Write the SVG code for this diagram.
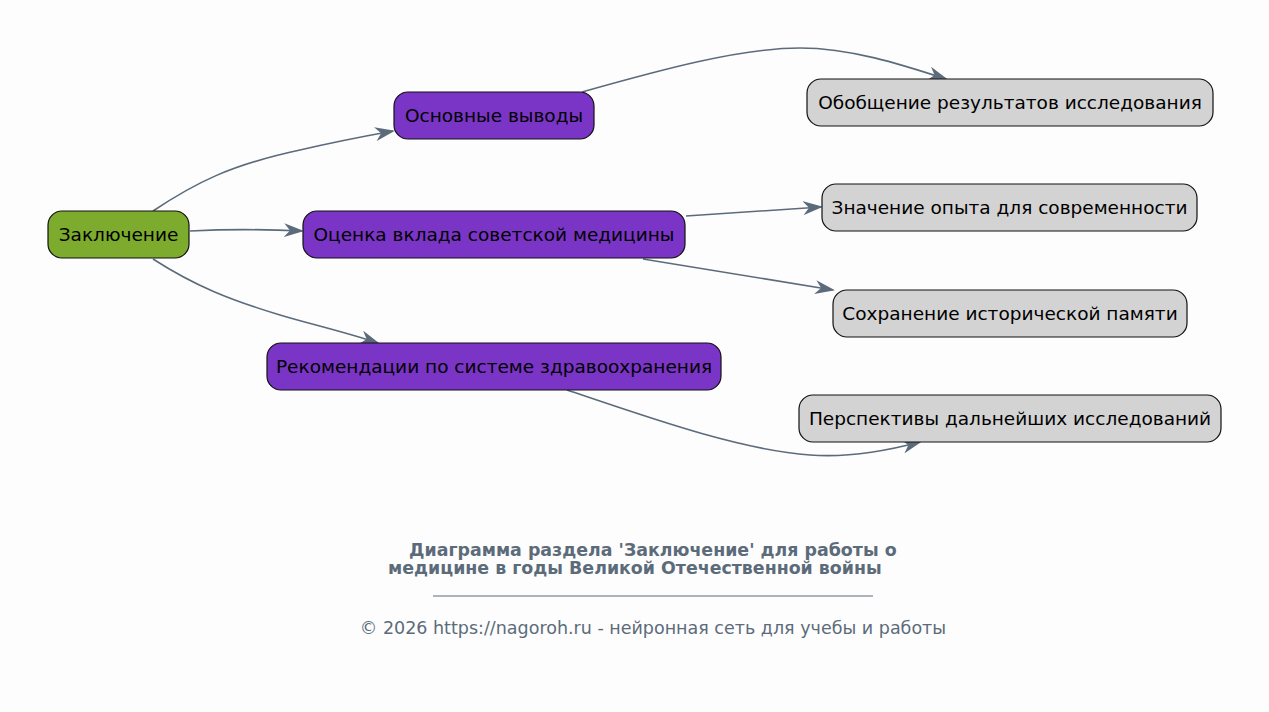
<svg xmlns="http://www.w3.org/2000/svg" width="1269" height="712" viewBox="0 0 1269 712">
<style>
.n rect{stroke:#111;stroke-width:1.2}
.n text{font-family:"DejaVu Sans",sans-serif;font-size:18.5px;fill:#000;text-anchor:middle;dominant-baseline:central}
.root rect{fill:#7cab2d}
.mid rect{fill:#7a35c6}
.leaf rect{fill:#d3d3d3}
.e path{fill:none;stroke:#5c6b7a;stroke-width:1.6;marker-end:url(#a)}
.t{font-family:"DejaVu Sans",sans-serif;fill:#5c6b7a}
</style>
<defs>
<marker id="a" viewBox="0 0 20 14" refX="18" refY="7" markerWidth="20" markerHeight="14" markerUnits="userSpaceOnUse" orient="auto">
<path d="M0,0 L20,7 L0,14 L6,7 Z" fill="#5c6b7a"/>
</marker>
</defs>
<rect width="1269" height="712" fill="#fdfdfd"/>
<g id="edges" class="e">
<path d="M153,211 C195,183 230,165 300,150 C330,143 360,137 393,131"/>
<path d="M190,231 C230,229 260,229 302,231"/>
<path d="M153,259 C195,286 230,300 280,315 C310,324 345,332 378,343"/>
<path d="M582,92 C660,70 740,48 800,48 C850,48 900,64 946,79"/>
<path d="M686,216 L821,207"/>
<path d="M643,259 L833,290"/>
<path d="M567,390 C650,418 740,450 810,455 C850,458 890,450 920,442"/>
</g>
<g id="n0" class="n root"><rect x="48" y="211" width="141" height="47" rx="14"/><text x="118.5" y="234.5">Заключение</text></g>
<g id="n1" class="n mid"><rect x="394" y="92" width="200" height="47" rx="14"/><text x="494" y="115.5">Основные выводы</text></g>
<g id="n2" class="n mid"><rect x="303" y="211" width="382" height="47" rx="14"/><text x="494" y="234.5">Оценка вклада советской медицины</text></g>
<g id="n3" class="n mid"><rect x="267" y="343" width="454" height="47" rx="14"/><text x="494" y="366.5">Рекомендации по системе здравоохранения</text></g>
<g id="n4" class="n leaf"><rect x="807" y="79" width="406" height="47" rx="14"/><text x="1010" y="102.5">Обобщение результатов исследования</text></g>
<g id="n5" class="n leaf"><rect x="822" y="184" width="375" height="47" rx="14"/><text x="1009.5" y="207.5">Значение опыта для современности</text></g>
<g id="n6" class="n leaf"><rect x="833" y="290" width="354" height="47" rx="14"/><text x="1010" y="313.5">Сохранение исторической памяти</text></g>
<g id="n7" class="n leaf"><rect x="799" y="395" width="422" height="47" rx="14"/><text x="1010" y="418.5">Перспективы дальнейших исследований</text></g>
<g id="title">
<text class="t" x="409" y="556" font-size="17.4" font-weight="bold">Диаграмма раздела 'Заключение' для работы о</text>
<text class="t" x="388" y="574" font-size="17.4" font-weight="bold">медицине в годы Великой Отечественной войны</text>
<line x1="433" y1="596" x2="873" y2="596" stroke="#5c6b7a" stroke-width="1"/>
<text class="t" x="653" y="634" font-size="17.5" text-anchor="middle">© 2026 https://nagoroh.ru - нейронная сеть для учебы и работы</text>
</g>
</svg>
